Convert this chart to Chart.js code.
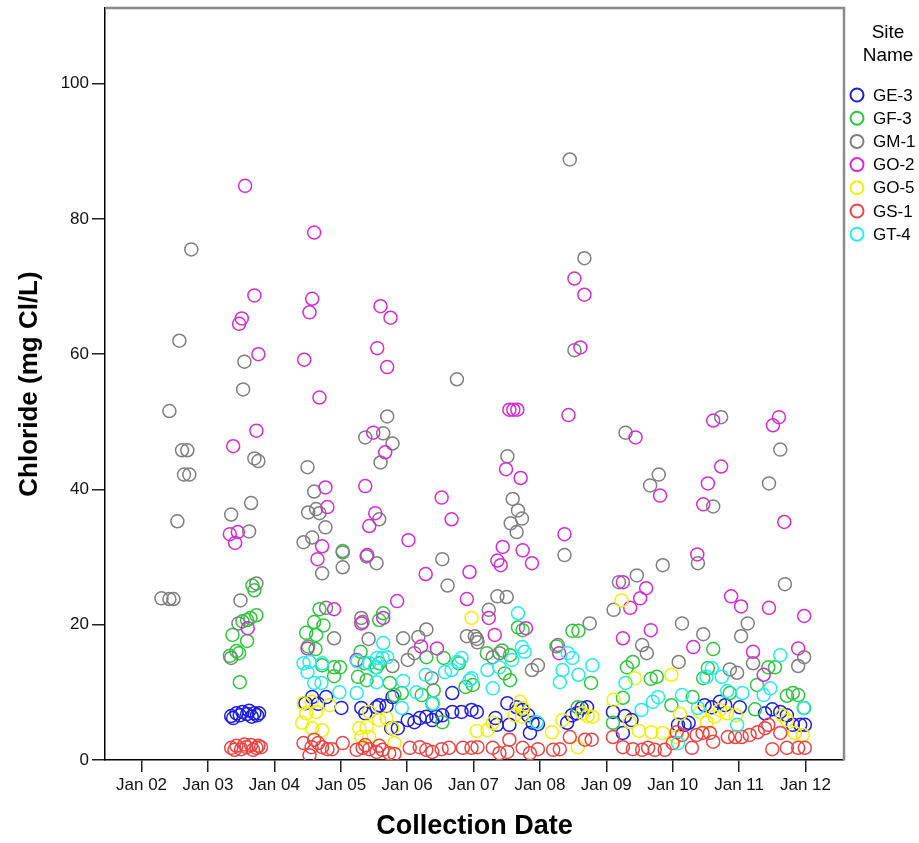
<!DOCTYPE html>
<html>
<head>
<meta charset="utf-8">
<title>Chloride by Site</title>
<script src="https://cdn.jsdelivr.net/npm/chart.js@4.4.1/dist/chart.umd.min.js"></script>
<style>
  html, body { margin: 0; padding: 0; background: #fff; }
  #wrap { width: 919px; height: 843px; }
</style>
</head>
<body>
<div id="wrap"><canvas id="chloridePlot" width="919" height="843"></canvas></div>
<script>
// ---------------------------------------------------------------------------
// Data: [collection date as decimal year, chloride mg Cl/L]
// ---------------------------------------------------------------------------
const siteNames = ['GE-3', 'GF-3', 'GM-1', 'GO-2', 'GO-5', 'GS-1', 'GT-4'];
const siteColors = ['#1e1ee6', '#2ec83c', '#7f7f7f', '#d82ad8', '#f2f200', '#ee4444', '#22eeee'];

const xTickValues = [2002, 2003, 2004, 2005, 2006, 2007, 2008, 2009, 2010, 2011, 2012];
const xTickLabels = ['Jan 02', 'Jan 03', 'Jan 04', 'Jan 05', 'Jan 06', 'Jan 07', 'Jan 08', 'Jan 09', 'Jan 10', 'Jan 11', 'Jan 12'];
const yTickValues = [0, 20, 40, 60, 80, 100];

const ge3 = [
  [2003.35, 6.5], [2003.38, 6.2], [2003.43, 6.9], [2003.48, 6.6], [2003.52, 7.1], [2003.59, 6.8],
  [2003.62, 7.3], [2003.66, 6.4], [2003.70, 6.9], [2003.74, 6.6], [2003.77, 6.9],
  [2004.47, 8.4], [2004.57, 9.3], [2004.78, 9.3], [2004.66, 8.3], [2005.01, 7.7], [2005.31, 7.7],
  [2005.37, 6.9], [2005.54, 7.8], [2005.58, 8.1], [2005.69, 8.0], [2005.78, 9.3], [2005.76, 4.7],
  [2005.86, 4.7], [2006.01, 5.9], [2006.11, 5.6], [2006.19, 6.2], [2006.29, 6.4], [2006.38, 5.9],
  [2006.44, 6.4], [2006.53, 6.6], [2006.68, 7.1], [2006.82, 7.1], [2006.97, 7.4], [2006.68, 9.9],
  [2007.05, 7.1], [2007.51, 8.4], [2007.65, 7.8], [2007.74, 7.4], [2007.82, 6.6], [2007.33, 6.2],
  [2007.35, 5.2], [2007.54, 5.2], [2007.89, 5.5], [2007.97, 5.3], [2007.85, 4.0],
  [2008.41, 5.5], [2008.48, 6.6], [2008.56, 6.9], [2008.63, 7.7], [2008.71, 7.8],
  [2009.10, 7.1], [2009.28, 6.5], [2009.38, 5.9], [2009.25, 4.0],
  [2010.08, 5.2], [2010.18, 5.2], [2010.24, 5.5], [2010.48, 8.1], [2010.59, 7.8], [2010.71, 8.6],
  [2010.79, 8.1], [2011.01, 7.8], [2011.39, 6.9], [2011.50, 7.5], [2011.62, 7.1], [2011.72, 6.6],
  [2011.81, 5.2], [2011.92, 5.2], [2011.99, 5.2]
];

const gf3 = [
  [2003.67, 25.8], [2003.70, 25.1], [2003.73, 21.4], [2003.59, 20.7], [2003.64, 21.0], [2003.52, 20.5],
  [2003.37, 18.5], [2003.59, 17.6], [2003.43, 16.1], [2003.47, 15.8], [2003.33, 15.4], [2003.48, 11.5],
  [2004.68, 22.3], [2004.60, 20.4], [2004.74, 19.9], [2004.48, 18.8], [2004.63, 18.5], [2004.51, 16.8],
  [2004.62, 16.4], [2004.72, 14.0], [2004.90, 13.7], [2004.99, 13.7], [2004.90, 12.4], [2005.03, 30.9],
  [2005.64, 21.7], [2005.58, 20.7], [2005.30, 16.0], [2005.36, 14.3], [2005.54, 13.7], [2005.58, 14.3],
  [2005.26, 12.3], [2005.39, 11.8], [2005.74, 11.4], [2005.81, 9.6], [2005.92, 9.9], [2006.22, 9.6],
  [2006.40, 10.3], [2006.38, 8.3], [2006.53, 5.6], [2006.55, 15.1], [2006.78, 14.3], [2006.88, 10.8],
  [2006.99, 11.1], [2006.29, 15.2], [2007.20, 15.8], [2007.43, 16.2], [2007.55, 15.5], [2007.67, 19.6],
  [2007.74, 19.2], [2007.47, 12.8], [2007.55, 11.8], [2008.25, 16.8], [2008.49, 19.1], [2008.58, 19.1],
  [2008.77, 11.4], [2008.57, 7.8], [2009.31, 13.7], [2009.40, 14.5], [2009.67, 12.0], [2009.76, 12.3],
  [2009.10, 5.5], [2009.25, 9.2], [2009.98, 8.1], [2010.30, 9.3], [2010.61, 16.4], [2010.53, 13.6],
  [2010.46, 12.1], [2010.86, 9.9], [2011.27, 11.1], [2011.44, 13.7], [2011.54, 13.7], [2011.72, 9.5],
  [2011.81, 9.9], [2011.89, 9.6], [2011.98, 7.7], [2011.24, 7.5]
];

const gm1 = [
  [2002.30, 23.9], [2002.42, 23.8], [2002.48, 23.8], [2002.42, 51.6], [2002.54, 35.3], [2002.57, 62.0],
  [2002.61, 45.8], [2002.69, 45.8], [2002.64, 42.2], [2002.72, 42.2], [2002.75, 75.5],
  [2003.35, 36.3], [2003.65, 38.0], [2003.62, 33.8], [2003.70, 44.6], [2003.76, 44.2], [2003.49, 23.6],
  [2003.73, 26.1], [2003.46, 20.2], [2003.35, 15.1], [2003.55, 58.9], [2003.53, 54.8],
  [2004.50, 43.3], [2004.60, 39.7], [2004.51, 36.6], [2004.63, 37.1], [2004.68, 36.5], [2004.77, 34.4],
  [2004.44, 32.2], [2004.57, 32.9], [2004.72, 27.6], [2005.03, 28.5], [2005.03, 30.7], [2004.78, 22.5],
  [2004.90, 18.0], [2005.31, 21.0], [2005.33, 20.4], [2005.42, 17.9], [2005.37, 47.7], [2005.64, 48.3],
  [2005.70, 50.8], [2005.78, 46.8], [2005.60, 44.0], [2005.58, 35.6], [2005.54, 29.1], [2005.39, 30.1],
  [2005.94, 18.0], [2006.11, 15.8], [2006.29, 19.3], [2006.17, 18.2], [2006.37, 12.1], [2006.01, 14.8],
  [2005.78, 13.9], [2006.53, 29.7], [2006.61, 25.8], [2006.75, 56.3], [2006.90, 18.3], [2007.05, 17.9],
  [2007.51, 44.9], [2007.59, 38.6], [2007.67, 36.9], [2007.73, 35.7], [2007.56, 35.0], [2007.65, 33.7],
  [2007.36, 24.2], [2007.50, 24.1], [2007.23, 22.2], [2007.02, 18.3], [2007.06, 17.4], [2007.29, 15.2],
  [2007.39, 15.8], [2007.88, 13.3], [2007.97, 14.0],
  [2008.27, 17.0], [2008.75, 20.2], [2008.37, 30.3], [2008.45, 88.8], [2008.67, 74.2], [2008.52, 60.6],
  [2009.29, 48.4], [2009.11, 22.2], [2009.46, 27.3], [2009.19, 26.3], [2009.54, 17.0], [2009.61, 15.8],
  [2009.66, 40.6], [2009.79, 42.2], [2009.85, 28.8], [2010.14, 20.2], [2010.09, 14.5], [2010.46, 18.6],
  [2010.38, 29.1], [2010.61, 37.5], [2010.73, 50.7], [2011.13, 20.2], [2011.03, 18.3], [2011.21, 14.3],
  [2010.86, 13.4], [2010.97, 12.9], [2011.45, 40.9], [2011.62, 45.9], [2011.69, 26.0], [2011.89, 13.9],
  [2011.98, 15.2]
];

const go2 = [
  [2003.73, 48.7], [2003.38, 46.4], [2003.33, 33.4], [2003.45, 33.7], [2003.41, 32.1], [2003.60, 19.5],
  [2003.56, 84.9], [2003.51, 65.3], [2003.47, 64.5], [2003.70, 68.7], [2003.76, 60.0],
  [2004.60, 78.0], [2004.57, 68.2], [2004.53, 66.2], [2005.60, 67.1], [2005.75, 65.4], [2004.45, 59.2],
  [2005.55, 60.9], [2005.70, 58.1], [2004.68, 53.6], [2005.49, 48.4], [2005.67, 45.5], [2004.77, 40.3],
  [2004.80, 37.4], [2005.37, 40.5], [2005.52, 36.5], [2005.43, 34.6], [2004.72, 31.6], [2004.65, 29.7],
  [2005.40, 30.3], [2006.52, 38.8], [2006.67, 35.6], [2006.02, 32.5], [2006.28, 27.5], [2005.85, 23.5],
  [2006.94, 27.8], [2006.90, 23.8], [2004.90, 22.3], [2005.31, 20.2], [2005.64, 21.0], [2004.50, 16.5],
  [2006.21, 16.8], [2006.45, 16.5], [2005.24, 14.8],
  [2007.54, 51.8], [2007.60, 51.8], [2007.66, 51.8], [2008.43, 51.0], [2007.49, 43.0], [2007.71, 41.7],
  [2007.44, 31.5], [2007.74, 31.0], [2007.36, 29.5], [2007.41, 28.8], [2007.88, 29.1], [2007.23, 21.0],
  [2007.32, 18.5], [2007.79, 19.5], [2008.29, 15.8], [2008.37, 33.4], [2008.52, 71.2], [2008.67, 68.8],
  [2008.61, 61.0], [2009.44, 47.7], [2009.25, 26.3], [2009.36, 22.5], [2009.51, 23.9], [2009.60, 25.4],
  [2009.25, 18.0], [2009.67, 19.2], [2009.81, 39.1], [2010.61, 50.2], [2010.73, 43.4], [2010.53, 40.9],
  [2010.46, 37.8], [2010.37, 30.4], [2010.31, 16.7], [2010.88, 24.2], [2011.03, 22.7], [2011.21, 16.0],
  [2011.37, 12.6], [2011.51, 49.5], [2011.60, 50.7], [2011.68, 35.2], [2011.45, 22.5], [2011.98, 21.3],
  [2011.89, 16.5]
];

const go5 = [
  [2004.44, 8.4], [2004.56, 8.6], [2004.48, 6.9], [2004.63, 7.1], [2004.42, 5.5], [2004.57, 4.7],
  [2004.72, 4.4], [2004.83, 8.1], [2005.28, 4.7], [2005.39, 4.9], [2005.31, 3.4], [2005.43, 3.4],
  [2005.58, 5.9], [2005.69, 6.2], [2005.43, 7.1], [2005.78, 4.7], [2005.81, 2.5], [2006.97, 21.0],
  [2007.05, 4.3], [2007.21, 4.4], [2007.29, 5.5], [2007.70, 8.6], [2007.74, 7.7], [2007.62, 6.6],
  [2007.73, 6.4], [2008.18, 4.1], [2008.34, 5.9], [2008.57, 1.9], [2008.64, 6.9], [2008.72, 6.5],
  [2008.79, 6.4], [2009.11, 8.9], [2009.23, 23.6], [2009.43, 12.1], [2009.68, 4.1], [2009.35, 5.6],
  [2009.49, 4.3], [2009.85, 4.0], [2009.98, 12.6], [2010.11, 6.8], [2010.05, 3.4], [2010.41, 7.1],
  [2010.51, 5.6], [2010.63, 6.4], [2010.71, 7.4], [2010.82, 6.9], [2010.95, 6.6], [2011.65, 6.6],
  [2011.72, 5.9], [2011.84, 4.0], [2011.96, 3.7]
];

const gs1 = [
  [2003.35, 1.8], [2003.40, 1.5], [2003.43, 2.1], [2003.50, 1.6], [2003.55, 2.3], [2003.58, 1.9],
  [2003.65, 2.2], [2003.68, 1.5], [2003.73, 1.8], [2003.76, 2.1], [2003.80, 1.9],
  [2004.44, 2.5], [2004.56, 1.9], [2004.60, 3.0], [2004.66, 2.5], [2004.72, 1.9], [2004.80, 1.6],
  [2004.87, 1.6], [2005.03, 2.5], [2004.53, 0.7], [2005.24, 1.5], [2005.33, 1.8], [2005.37, 2.2],
  [2005.43, 1.6], [2005.54, 1.2], [2005.58, 2.1], [2005.63, 1.5], [2005.73, 1.0], [2005.81, 0.9],
  [2006.04, 1.8], [2006.19, 1.9], [2006.29, 1.5], [2006.38, 1.2], [2006.52, 1.6], [2006.63, 1.8],
  [2006.84, 1.8], [2006.97, 1.8], [2007.06, 1.9], [2007.29, 1.8], [2007.39, 1.0], [2007.51, 1.2],
  [2007.54, 3.0], [2007.74, 1.8], [2007.85, 1.0], [2007.97, 1.6], [2008.20, 1.5], [2008.30, 1.6],
  [2008.45, 3.4], [2008.68, 3.0], [2008.78, 3.0], [2009.10, 3.4], [2009.25, 1.9], [2009.40, 1.6],
  [2009.54, 1.5], [2009.63, 1.8], [2009.73, 1.5], [2009.88, 1.5], [2010.00, 2.5], [2010.06, 4.1],
  [2010.14, 3.7], [2010.29, 1.8], [2010.36, 3.7], [2010.45, 4.0], [2010.56, 4.0], [2010.61, 2.7],
  [2010.83, 3.4], [2010.94, 3.4], [2011.04, 3.4], [2011.16, 3.7], [2011.28, 4.1], [2011.39, 4.7],
  [2011.44, 5.2], [2011.50, 1.6], [2011.62, 4.0], [2011.72, 1.8], [2011.89, 1.8], [2011.99, 1.8]
];

const gt4 = [
  [2004.44, 14.3], [2004.53, 14.5], [2004.50, 13.0], [2004.60, 11.4], [2004.71, 11.4], [2004.98, 10.0],
  [2004.72, 14.3], [2005.25, 14.6], [2005.55, 15.1], [2005.63, 15.1], [2005.70, 15.2], [2005.64, 17.3],
  [2005.43, 14.3], [2005.52, 13.7], [2005.24, 9.9], [2005.54, 11.5], [2005.94, 11.7], [2006.14, 10.0],
  [2005.92, 7.7], [2006.28, 12.6], [2006.39, 8.4], [2006.57, 13.0], [2006.67, 13.3], [2006.76, 14.5],
  [2006.94, 11.8], [2007.67, 21.7], [2006.82, 15.1], [2006.97, 12.1], [2007.21, 13.3], [2007.29, 10.6],
  [2007.73, 16.7], [2007.77, 16.0], [2007.58, 14.8], [2007.39, 13.7], [2007.95, 5.6], [2008.42, 15.8],
  [2008.49, 15.1], [2008.34, 13.3], [2008.30, 11.5], [2008.58, 12.6], [2008.79, 14.0], [2009.29, 11.4],
  [2009.53, 7.4], [2009.70, 8.6], [2009.78, 9.3], [2010.14, 9.6], [2010.08, 2.5], [2010.51, 12.3],
  [2010.59, 13.6], [2010.74, 12.3], [2010.82, 10.2], [2010.97, 5.2], [2011.05, 9.9], [2011.47, 10.6],
  [2011.37, 9.6], [2011.62, 15.5], [2011.97, 7.7], [2010.38, 7.7]
];

const siteSeries = [ge3, gf3, gm1, go2, go5, gs1, gt4];

const X_MIN = 2001.45;
const X_MAX = 2012.58;
const Y_MIN = 0;
const Y_MAX = 111.2;

const FONT = "'Liberation Sans', Arial, sans-serif";

// ---------------------------------------------------------------------------
// Plugins: frame (top/right border) and SPSS-style legend on the right
// ---------------------------------------------------------------------------
const framePlugin = {
  id: 'frame',
  afterDraw(chart) {
    const { ctx, chartArea: a } = chart;
    ctx.save();
    ctx.strokeStyle = '#8a8a8a';
    ctx.lineWidth = 2.5;
    ctx.beginPath();
    ctx.moveTo(a.left, a.top);
    ctx.lineTo(a.right, a.top);
    ctx.lineTo(a.right, a.bottom);
    ctx.stroke();
    ctx.restore();
  }
};

const siteLegendPlugin = {
  id: 'siteLegend',
  afterDraw(chart) {
    const ctx = chart.ctx;
    ctx.save();
    ctx.fillStyle = '#000';
    ctx.textAlign = 'center';
    ctx.textBaseline = 'middle';
    ctx.font = `19px ${FONT}`;
    ctx.fillText('Site', 888, 33);
    ctx.fillText('Name', 888, 56);

    ctx.textAlign = 'left';
    ctx.font = `17px ${FONT}`;
    chart.data.datasets.forEach((ds, i) => {
      const y = 95 + i * 23.2;
      ctx.strokeStyle = ds.borderColor;
      ctx.lineWidth = 2;
      ctx.beginPath();
      ctx.arc(857, y, 6.5, 0, Math.PI * 2);
      ctx.stroke();
      ctx.fillStyle = '#000';
      ctx.fillText(ds.label, 873, y + 1);
    });
    ctx.restore();
  }
};

// ---------------------------------------------------------------------------
// Chart
// ---------------------------------------------------------------------------
const datasets = siteNames.map((name, i) => ({
  label: name,
  data: siteSeries[i].map(([x, y]) => ({ x, y })),
  borderColor: siteColors[i],
  backgroundColor: 'rgba(0,0,0,0)',
  borderWidth: 1.5,
  pointRadius: 6.5,
  pointHoverRadius: 6.5,
  pointStyle: 'circle',
  order: siteNames.length - i
}));

new Chart(document.getElementById('chloridePlot').getContext('2d'), {
  type: 'scatter',
  data: { datasets },
  plugins: [framePlugin, siteLegendPlugin],
  options: {
    responsive: false,
    animation: false,
    layout: { padding: { top: 7, right: 75, left: 0, bottom: 0 } },
    plugins: {
      legend: { display: false },
      tooltip: { enabled: false }
    },
    scales: {
      x: {
        type: 'linear',
        min: X_MIN,
        max: X_MAX,
        afterBuildTicks(scale) {
          scale.ticks = xTickValues.map(v => ({ value: v }));
        },
        afterFit(scale) {
          scale.height = 83;
          scale.paddingLeft = 0;
          scale.paddingRight = 0;
        },
        ticks: {
          autoSkip: false,
          maxRotation: 0,
          padding: 3,
          color: '#111',
          font: { size: 17, family: FONT },
          callback: (value) => {
            const idx = xTickValues.indexOf(value);
            return idx >= 0 ? xTickLabels[idx] : '';
          }
        },
        grid: {
          display: true,
          drawOnChartArea: false,
          drawTicks: true,
          tickLength: 12,
          color: '#222',
          lineWidth: 1.5
        },
        border: { display: true, color: '#000', width: 1.5 },
        title: {
          display: true,
          text: 'Collection Date',
          color: '#000',
          padding: { top: 0, bottom: 0 },
          font: { size: 27, weight: 'bold', family: FONT }
        }
      },
      y: {
        type: 'linear',
        min: Y_MIN,
        max: Y_MAX,
        afterBuildTicks(scale) {
          scale.ticks = yTickValues.map(v => ({ value: v }));
        },
        afterFit(scale) {
          scale.width = 105;
          scale.paddingTop = 0;
          scale.paddingBottom = 0;
        },
        ticks: {
          padding: 3,
          color: '#111',
          font: { size: 17, family: FONT }
        },
        grid: {
          display: true,
          drawOnChartArea: false,
          drawTicks: true,
          tickLength: 13,
          color: '#222',
          lineWidth: 1.5
        },
        border: { display: true, color: '#000', width: 1.5 },
        title: {
          display: true,
          text: 'Chloride (mg Cl/L)',
          color: '#000',
          padding: { top: 14, bottom: 0 },
          font: { size: 26, weight: 'bold', family: FONT }
        }
      }
    }
  }
});
</script>
</body>
</html>
